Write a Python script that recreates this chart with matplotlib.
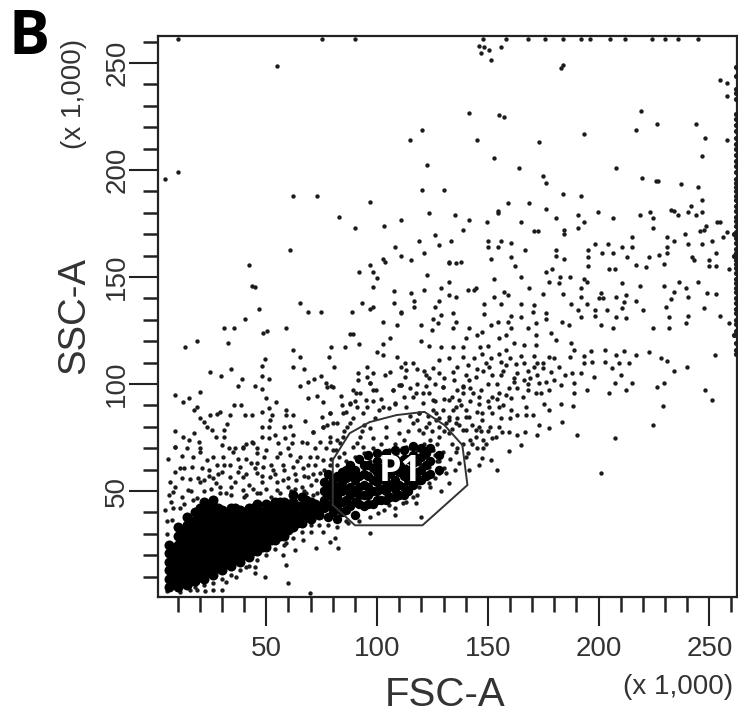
import matplotlib
matplotlib.use("Agg")
import matplotlib.pyplot as plt

x_major = [50, 100, 150, 200, 250]
x_minor = [10, 20, 30, 40, 60, 70, 80, 90, 110, 120, 130, 140, 160, 170, 180, 190, 210, 220, 230, 240, 260]
y_major = [50, 100, 150, 200, 250]
y_minor = [10, 20, 30, 40, 60, 70, 80, 90, 110, 120, 130, 140, 160, 170, 180, 190, 210, 220, 230, 240, 260]

# Sparse events, high side scatter
upper_right = [(148.5,257.6),(156,257.6),(147,254.5),(151.5,251.4),(183,247.5),(184,249),(254.6,242),(258,240.5),(257.8,234.6),(219,227.5),
(157.5,224.6),(226.5,221.5),(243.8,221.5),(217,218.7),(193.5,217),(248,215),(258,214),(173.2,213),(246.8,206.5),(153,205.4),(164,201),(207.8,201),
(174.7,197),(176.2,193.7),(219.8,196.4),(225.8,195),(227,195),(237.3,193.4),(245,191.9),(184,189),(192,187.8),(246.8,186),(159.3,184.7),(168.4,184.7),
(176.2,181.6),(241.8,183.2),(232.5,181.3),(234,181),(154.5,179.7),(154.5,181),(199.8,180.2),(190.5,179),(223.2,180.2),(240.3,180.2),(243.8,179),(246.8,180.2),
(236,179),(218.9,179),(181,177.4),(206.3,177.4),(224.7,177.4),(149.7,175.8),(165,175.8),(193.5,175.8),(253.6,175.8),(255,175.8),(248.3,174),(190.5,172.7),
(224.7,172.7),(171,171.5),(172.5,171.5),(184.2,170),(184.2,172),(246,171.5),(247.5,172),(257.8,171.2),(238.8,170),(215.3,168.5),(150,167),(156,167),(160.5,165.7),
(198.3,165.4),(204.3,165.4),(231,168.5),(234,167),(240.3,165.4),(246.8,165.4),(251.3,167),(256,168.5),(210.8,164),(215.3,163.8),(149.9,163.8),(154.5,164),(167,162.6),
(181,162.6),(195.3,162.6),(201.5,161),(206.3,161),(231,163.8),(231,161),(227.3,160.3),(222.8,159.5),(242.3,159.5),(252.8,161),(160.5,159.5),(181,159.8),(195.3,159.5),
(213,159.5),(151.5,158.3),(184.2,158.3),(249.8,158),(243,158),(162.4,155.1),(195.3,155.1),(216.8,155.6),(221.3,154.8),(229.5,156.3),(249.8,155.1),(252.8,155.1),
(179.2,153.9),(176.2,152.5),(204.5,153.7),(207.5,153.7),(259,153.6),(165,150),(182.5,150),(187.2,150),(193.5,149.3),(153,149),(177.7,147.8),(182.2,147.3),(195,147.6),
(210.8,147),(236.3,147.5),(245,147.5),(168.4,145),(192,144.7),(218.7,145.9),(229.5,145.9),(239.3,144.7),(234,143.2),(157.5,143.2),(159,141.4),(174.7,141.9),(184,141.9),
(201,142.3),(212.3,141.6),(252.8,141.9),(249,142.3),(202,140),(152.6,140.8),(192,140.8),(207.8,140.5),(232.5,139.9),(240.3,140.5),(217,138.9),(148.5,137.4),(156,137.4),
(165,137.4),(171,136.9),(187.5,137.4),(195,137.4),(200.4,140),(211.5,138.4),(230.3,135.8),(247.5,135.4),(220,134.5),(170.2,133.6),(176.2,133.3),(190.5,134.5),(198.3,134.5),
(204,134.5),(210.8,135.3),(148.5,132.7),(160.5,131.8),(165,131.4),(183.7,129.1),(192,131.4),(231.8,131.4),(240.3,132),(254.6,132),(176.2,130.2),(198.3,131.8),(207.8,131.1),
(212.3,130.7),(151.5,127.6),(154.5,128.8),(159,128.8),(171.7,128.3),(186.7,127.6),(201,127.6),(239.6,128.3),(258.8,128.3),(160.5,126),(168,126),(206.6,126),(224.7,126),(231.8,126)]

# Sparse events, mid band on the right of the gate
mid_band = [(121.4,161),(132.6,156.7),(135.6,156.7),(132.3,147.8),(128.9,145),(140.9,143.9),(144.6,145),(115.4,142.3),(135.6,140.5),(116.9,136.1),(110.9,133.3),
(126.3,136.1),(128.9,132.2),(134.1,133.3),(125.1,130.2),(119.9,127.6),(127.4,128.3),(135.6,129.1),(134.1,126),(124.7,125.2),(141.6,126),(119.9,120.2),(123.6,117.7),(128.9,117.1),
(134.1,117.1),(138.6,117.1),(140.1,121.3),(144.9,122.9),(147.6,124.4),(146.6,117.1),(132.6,112),(128.1,111.2),(138.6,112.4),(143.9,112),(147.6,114),(151.4,112),(155.1,121.3),
(158.1,122.9),(161.9,119),(166.4,118.2),(171.7,122.9),(178.4,123.7),(180.7,120.5),(171.7,118.2),(158.1,115.9),(158.1,108.9),(155.9,110.4),(170.9,113),(177.7,112.4),(187.4,119),
(188.9,115.9),(187,112.4),(193.4,113),(193.4,109.6),(197.2,110.4),(196.4,115.4),(202.7,115.9),(202.7,110.4),(207.7,113.5),(211.5,115.4),(216.7,113.5),(213.7,109.6),(209.2,109.6),
(206.2,107.3),(210,104.2),(197.9,103.4),(188.2,105.3),(192,105.3),(182.2,108.1),(178.4,105.7),(174.7,107.3),(170.9,107.8),(166.4,109.6),(162.6,109.3),(152.1,104.2),(150.6,108.1),
(140.9,108.9),(134.1,105.7),(125.1,107.3),(121.4,106.2),(123.6,102.6),(128.1,105),(141.6,101.9),(144.6,103.4),(129.6,98.7),(134.9,101.9),(161.9,101.1),(166.4,101.9),(176.2,101.1),
(182.9,99.5),(188.9,100.3),(194.9,97.2),(188.9,95.6),(204.7,95.6),(207.4,100.3),(215.2,100.3),(212.2,97.2),(226.5,98.7),(229.5,100.3),(240,107.8),(234,106.2),(228,112),(231,110.7),
(222.7,115.1),(252.7,113.5),(248.2,97.2),(251.2,92.5),(229.2,89.7),(224.5,80.8),(207.4,74.6),(200.9,58.2),(190.1,76.2),(183.7,82.4),(177.7,79.3),(172,76.2),(172.9,80.8),(166.9,77.7),
(163.4,76.2),(159.6,77.7),(156.6,77.7),(164.9,71.5),(159.6,68.8),(147.6,65.3),(151.4,64.5),(154.1,59.8),(188.5,89.7),(182.9,90.9),(175.4,90.9),(177.7,88.1),(167.2,89.4),(170.2,85.5),
(167.2,85.5),(163.4,85.5),(160.4,88.1),(160.4,93.3),(165.7,94.1),(171.7,95.6),(177.7,97.2),(173.2,100.3),(155.1,95.6),(159.6,98),(152.1,94.1),(147.6,86.3),(152.1,86.3),(155.1,89.4),
(146.1,90.9),(143.1,95.6),(138.6,95.6),(135.6,89.4),(132.6,84.7),(135.6,81.6),(146.1,80),(152.1,74.6),(140.1,84.7),(129.6,87.8),(120.6,95.6),(116.1,94),(119.1,86.3),(125.1,92.5),
(132.6,92.5),(125.1,87.8),(119.1,78.5),(126.6,83.2),(140.1,78.5),(147.6,83.2),(150.6,89.4),(144.6,75.4),(153.6,75.4),(112.4,109.6),(113.1,106.5),(110.9,99.5),(112.4,103.4),
(148,106),(156,104),(154,100),(163,105),(157,106),(169,103),(172,104),(147,97),(150,100),(142,92),(139,99),(136,97),(145,87),(156,84),(143,72),(148,70),(150,78),(141,68),(146,62)]

# Sparse events on the left of the plot
upper_left = [(42,155.6),(44.7,145.2),(46.5,134.9),(40.5,130.4),(30.7,126.3),(35.5,126.3),(48.7,123.7),(50.3,124.9),(59,126.3),(60.8,162.6),(18.7,120.2),(13.5,117.4),(32.5,119),
(65.3,137.7),(68.6,133.5),(74.6,133.5),(92,152.5),(98,152.5),(99.8,149.4),(98,145.2),(102.8,158.4),(111,160),(107.6,143.6),(107.6,137.7),(93.3,137.7),(96.8,134.9),(98.3,136.1),
(88.8,133.5),(111,133.5),(102.8,129.1),(109.1,127.6),(105.8,121.3),(102.8,118.5),(87.8,123.2),(89,123.2),(91.8,118.5),(85.5,117.1),(79.2,117.1),(62,115.9),(65.3,112.8),(78.5,112.4),
(80.7,108.1),(62,108.1),(66.8,107),(49.5,111.5),(48,108.4),(34,107),(24.4,105.4),(29.5,103.7),(48,103.7),(51,102.3),(39,102.3),(37,99.2),(44.7,99.2),(48,97.6),(65.3,99.2),(68.6,100.9),
(71.6,102.2),(74.6,103.7),(77.3,98.4),(79,99),(19.9,96.1),(9,94.8),(15.3,93.3),(12.3,91.7),(49.8,93.3),(54.5,91.7),(35.5,90.2),(38.5,90.2),(68.6,93.3),(72.8,94.5),(83.7,94.5),(75.8,91.7),
(17.2,87.8),(18.7,89.4),(24.4,85.5),(27.7,86),(29.2,87),(33.4,85.5),(40.5,85.5),(43.5,85.5),(48,87),(51.3,88.6),(59,87.8),(59,85.5),(62,85.5),(52.5,85.5),(51.7,83.2),(20.2,83.9),(21.7,82.4),
(32.2,81.3),(48,79.7),(51,80),(57.8,79.7),(60.8,80.5),(67.5,82.8),(9,78.2),(17.2,76.9),(23.2,79.7),(25.5,78.5),(30.7,78.5),(30.7,75.4),(12.4,75.4),(15.3,73.8),(27.4,75.4),(48,75.4),(51,75),
(43.5,73),(19.5,73),(9,70.7),(20.2,70),(30,71.5),(39.7,70.7),(36,70),(58.5,74.6),(55.5,72.3),(61.5,72.3),(74.3,73),(71.3,77.7),(68.3,72.3),(75,84.7),(78.8,86.3),(75.8,80),(84.8,86.3),
(87.8,90.9),(90.8,89.4),(95.3,89.4),(95.3,108.1),(95.3,103.4),(91.5,105),(91.5,101.9),(98.3,105),(103.6,104.2),(105.8,105.7),(111,108.1),(109.1,112.4),(110.6,99.5),(99.8,115.1),(102.8,113.5),
(96.8,100.3),(98.3,97.2),(107.3,97.2),(108,90.9),(102.8,89.4),(89.3,97.2),(92.3,95.6),(77.3,80.8),(81.8,81.6),(86.3,80),(78.8,73),(83.3,72.3),(90.8,72.3),
(5.8,65),(8.8,70.8),(11.8,66.4),(16.3,61.4),(20,68.4),(20.8,60.6),(23,64.5),(27.8,62.2),(30.5,66),(35,68.4),(39.6,70),(43.8,72.3),(45.6,67.6),(50,69.2),(33.5,62.2),(38,61.1),(44.8,60.6),
(48.6,61.4),(53.1,59.8),(57.6,62.2),(62.1,61.4),(66.6,60.6),(71.8,62.2),(75.6,64.5),(69.6,66),(80.1,69.2),(54.6,66),(60.6,66.9),(6.5,54.4),(11.8,55.9),(15.5,55.5),(20,54.4),(27.5,53.6),
(33.5,56.7),(39.6,56.7),(45.6,58.3),(51.6,56.7),(57.6,55.2),(63.6,55.2),(68.8,56.7),(74.1,58.3),(8,49.7),(14.8,50.5),(18.5,46.6),(4.3,41.2),(7.3,36.5),(11,41.9),(32,49),(39.6,50.5),(47.1,48.9),
(54.6,50.5),(78.6,62.2),(72.6,55.2),(24,57),(30,59),(36,54),(42,53),(48,54),(54,58),(60,52),(66,52),(9,59),(13,61),(25,51),(29,52),(43,63),(64,64),(70,53),(77,56)]

# Upper sparse events
far_top = [(54.7,248.6),(114.7,214),(120.5,218.7),(122.6,202.3),(141.7,226.6),(144.9,214),(150.7,256),(146,258),(155,225.7),(4.3,196),(10,199),(62,188),(73,188),(83,178),(96.6,185),
(90,173),(103,174),(111,176.6),(123.6,180),(120.5,190.6),(130.4,190.6),(135,179),(119,167),(126,169.6),(139,172),(96.6,155.6),(103.4,157),(115.5,158),(132.6,157),(107.9,164),(128,165),
(43.5,146),(141.7,176.6),(133.5,167),(122.7,151),(143.9,144),(138,157),(132.6,141.6),(121.4,144),(128.1,139),(116.8,139)]

# Events around and inside the gate
gate_region = [(87.6,91),(95.1,92.6),(107.9,91),(78.6,86.3),(71.1,77.7),(75.6,80.1),(77.1,100.3),(80.1,98.8),(90.6,95.7),(96.6,100.3),(110.1,99.6),(99.6,97.2),(107.1,97.2),(86.1,87.1),
(93.6,86.3),(101.1,87.9),(105.6,88.7),(113.1,89.4),(117.6,95.7),(120.6,91),(123.6,95.7),(119.1,86.3),(129.6,98.8),(134.1,87.9),(137.1,92.6),(141.7,84.8),(144.7,78.5),(138.6,98.8),
(132.6,83.2),(126.6,86.3),(116.1,81.7),(123.6,81.7),(120.6,77),(128.1,75.4),(132.6,77),(138.6,78.5),(119.1,70.7),(125.1,69.2),(129.6,68.4),(135.6,68.4),(140.1,66),(141.7,59.8),(131.1,58.3),
(132.6,53.6),(128.1,58.3),(123.6,61.4),(123.6,53.6),(119.1,52),(116.1,47.4),(111.6,44.3),(105.6,43.5),(99.6,67.6),(105.6,69.2),(113.1,70.7),(93.6,70.7),(89.1,70.7),(84.6,75.4),(81.6,69.2),
(78.6,75.4),(92.1,75.4),(98.1,74.7),(104.1,75.4),(110.1,77),(104.1,80.1),(96.6,79.3),(87.6,81.7),(80.1,81.7),(124,74),(127,72),(122,66),(127,64),(134,72),(137,63),(135,60),(126,56),(129,50),
(117,65),(120,62),(114,66),(110,65),(128,80),(123,85),(130,78),(136,84),(115,85),(110,83),(99,84),(94,81),(83,66),(86,64),(90,66),(95,66)]

# Extra events in the crowded band left of the gate and along the blob rim
band_fill = [(7,45),(9,52),(12,47),(16,50),(19,56),(22,50),(24,60),(26,56),(29,49),(31,62),(34,52),(37,59),(37,65),(41,48),(41,58),(41,65),(44,51),(46,63),(48,57),(49,66),(52,47),(52,62),(55,54),
(56,68),(58,60),(60,56),(60,70),(63,51),(63,58),(65,66),(67,50),(67,57),(69,62),(71,48),(71,58),(73,66),(75,51),(76,60),(77,70),(79,65),(72,70),(66,73),(62,76),(54,76),(46,70),(41,72),(33,70),
(26,66),(17,66),(14,70),(11,61),(6,48),(5,36),(8,42),(13,44),(17,46),(22,55),(28,58),(34,48),(40,47),(46,49),(50,51),(56,49),(61,50),(68,49),(73,49),(78,34),(74,34),(70,34),(66,31),(62,28),(58,25),
(54,23),(50,20),(46,18),(42,15),(38,13),(34,11),(30,9),(26,7),(22,6),(18,5),(5,30),(82,33),(86,36),(92,36),(97,38),(103,41),(108,42),(113,45),(118,48),(124,52)]

# Extra events in the crowded cloud above and right of the gate
cloud_fill = [(82,62),(85,68),(88,60),(91,65),(94,68),(97,64),(100,64),(103,67),(106,66),(109,68),(112,68),(115,70),(118,69),(121,72),(124,70),(126,67),(128,64),(130,61),(133,65),(136,70),(139,72),
(142,74),(145,70),(148,74),(151,80),(147,78),(143,81),(140,88),(137,81),(134,79),(131,82),(128,84),(125,78),(122,80),(118,83),(114,78),(112,74),(108,72),(102,72),(98,70),(93,78),(89,84),(85,78),
(82,74),(84,90),(90,92),(98,92),(102,93),(112,94),(115,98),(118,100),(122,99),(126,92),(130,93),(134,94),(138,90),(142,98),(146,94),(150,92),(154,93),(157,90),(160,84),(155,80),(149,72),(158,95),
(163,98),(168,97),(174,96),(180,102),(185,104),(162,103),(168,106),(175,110),(180,112),(155,114),(149,110),(145,107),(140,104),(136,108),(130,103),(126,100),(122,104),(118,107),(116,110),(150,118),
(160,112),(165,113),(172,110),(168,100)]

# Events under the main population
lower_edge = [(59.1,15.4),(59.8,6.9),(69.6,2.5),(49.3,10),(44.8,14.7),(44.8,11.6),(32,7.7),(36.5,10),(41,14.7),(57.6,20.1),(62.8,22.5),(59.1,25.6),(66.6,27.1),(72.6,23.2),(78.6,26),
(82.3,23.2),(80.8,27.9),(75.6,31),(70.3,31),(96.6,30.6),(86.9,34.9),(107.9,38.8),(119.9,38),(100.4,39.6),(117.6,44.3),(5,3.5),(11,3),(15.5,3.8),(18.5,3.8),(22.3,3.5),(26,3.8),(29.8,3.8)]

# Events piled on the plot edges
right_edge = [(262,248),(262,244),(262,238),(262,233),(262,226),(262,221),(262,215),(262,210),(262,204),(262,199),(262,194),(262,190),(262,186),(262,181),(262,176),(262,171),(262,166),(262,161),
(262,156),(262,152),(262,147),(262,143),(262,138),(262,133),(262,128),(262,125),(262,119),(262,114),(261,170),(261,160),(261,123),(262,236),(262,224),(262,218),(262,212),(262,207),(262,202),
(262,196),(262,192),(262,188),(262,183),(262,178),(262,174),(262,168),(262,163),(262,158),(262,154),(262,149),(262,145),(262,140),(262,135),(262,130),(262,116)]
top_edge = [(10,261),(75,261),(90,261),(148,261),(158,261),(168,261),(176,261),(184,261),(192,261),(196,261),(205,261),(212,261),(224,261),(230,261),(236,261),(245,261)]

# Saturated population, drawn as large overlapping marks
core_dense = [(6,5),(6,9),(6,13),(6,17),(6,21),(6,25),(10,5),(10,9),(10,13),(10,17),(10,21),(10,25),(10,29),(10,33),(14,6),(14,10),(14,14),(14,18),(14,22),(14,26),(14,30),(14,34),(14,38),
(18,8),(18,12),(18,16),(18,20),(18,24),(18,28),(18,32),(18,36),(18,40),(22,9),(22,13),(22,17),(22,21),(22,25),(22,29),(22,33),(22,37),(22,41),(22,45),(26,11),(26,15),(26,19),(26,23),(26,27),
(26,31),(26,35),(26,39),(26,43),(26,46),(30,13),(30,17),(30,21),(30,25),(30,29),(30,33),(30,37),(30,41),(34,15),(34,19),(34,23),(34,27),(34,31),(34,35),(34,39),(34,42),(38,17),(38,21),(38,25),
(38,29),(38,33),(38,37),(38,41),(42,19),(42,23),(42,27),(42,31),(42,35),(42,39),(42,42),(46,22),(46,26),(46,30),(46,34),(46,38),(46,42),(46,44),(50,24),(50,28),(50,32),(50,36),(50,40),(50,44),
(54,27),(54,31),(54,35),(54,39),(54,43),(54,45),(58,29),(58,33),(58,37),(58,41),(58,45),(62,33),(62,37),(62,41),(62,45),(62,48),(66,35),(66,39),(66,43),(66,47),(70,37),(70,41),(70,45),(74,39),(74,43),
(8,7),(8,11),(8,15),(8,19),(8,23),(12,7),(12,11),(12,15),(12,19),(12,23),(12,27),(12,31),(16,8),(16,12),(16,16),(16,20),(16,24),(16,28),(16,32),(16,36),(20,10),(20,14),(20,18),(20,22),(20,26),(20,30),(20,34),(20,38),(20,42),
(24,12),(24,16),(24,20),(24,24),(24,28),(24,32),(24,36),(24,40),(24,44),(28,14),(28,18),(28,22),(28,26),(28,30),(28,34),(28,38),(28,42),(32,16),(32,20),(32,24),(32,28),(32,32),(32,36),(32,40),(36,18),(36,22),(36,26),(36,30),(36,34),(36,38),(36,42),
(40,20),(40,24),(40,28),(40,32),(40,36),(40,40),(44,22),(44,26),(44,30),(44,34),(44,38),(44,42),(48,24),(48,28),(48,32),(48,36),(48,40),(52,27),(52,31),(52,35),(52,39),(52,43),(56,29),(56,33),(56,37),(56,41),(56,45),(60,32),(60,36),(60,40),(60,44),(64,35),(64,39),(64,43),(68,38),(68,42),(68,46),(72,40),(72,44)]
core_gate = [(78,38),(78,43),(78,48),(78,53),(78,58),(82,37),(82,42),(82,47),(82,52),(82,57),(86,41),(86,46),(86,51),(86,56),(86,60),(90,39),(90,45),(90,50),(90,55),(90,60),(94,43),(94,48),(94,53),
(94,58),(94,62),(98,44),(98,50),(98,55),(98,61),(102,46),(102,51),(102,56),(102,61),(106,47),(106,53),(106,58),(106,63),(110,48),(110,53),(110,59),(110,63),(114,50),(114,55),(114,60),(114,65),
(118,55),(118,59),(118,64),(122,57),(122,62),(122,68),(76,42),(76,50),(80,40),(80,50),(84,45),(84,54),(88,48),(88,57),(92,44),(92,52),(96,48),(96,57),(100,50),(100,59),(104,50),(104,59),(108,51),(108,60),(112,52),(112,61),(116,57),(116,63),(120,60),(120,66),
(80,45),(80,55),(84,40),(84,50),(84,59),(88,43),(88,52),(88,62),(92,48),(92,57),(92,65),(96,44),(96,52),(96,62),(96,67),(100,46),(100,54),(100,64),(100,68),(104,46),(104,54),(104,64),(104,68),(108,47),(108,55),(108,65),(108,69),(112,48),(112,57),(112,65),(112,69),(116,53),(116,67),(116,71),(120,55),(120,70),(124,58),(124,64),(124,70),(128,60),(128,67),(76,46),(76,54)]

# Gate P1 outline
gate_x = [80, 80, 87.6, 96.6, 108.8, 121.4, 130.4, 138.5, 140.8, 120.5, 90, 80]
gate_y = [43.5, 64.5, 77, 82.2, 85.5, 87, 80.8, 71.5, 52.8, 34, 34, 43.5]

W, H = 738, 719
fig = plt.figure(figsize=(W / 100, H / 100), dpi=100, facecolor="white")
ax = fig.add_axes([158 / W, (H - 597) / H, (737 - 158) / W, (597 - 36) / H])
ax.set_xlim(1.1, 262.5)
ax.set_ylim(0.5, 262.6)

ink = "#1c1c1c"
sparse = upper_right + mid_band + upper_left + far_top + gate_region + band_fill + cloud_fill + lower_edge + top_edge
ax.scatter([p[0] for p in sparse], [p[1] for p in sparse], s=10, c=ink, linewidths=0, zorder=3, clip_on=False)
ax.scatter([p[0] for p in right_edge], [p[1] for p in right_edge], s=14, c=ink, linewidths=0, zorder=3, clip_on=False)
ax.scatter([p[0] for p in core_dense], [p[1] for p in core_dense], s=52, c="black", linewidths=0, zorder=3)
ax.scatter([p[0] for p in core_gate], [p[1] for p in core_gate], s=46, c="black", linewidths=0, zorder=3)
ax.plot(gate_x, gate_y, color="#333333", lw=1.4, zorder=4)

for s in ax.spines.values():
    s.set_linewidth(1.6)
    s.set_color("#222222")

sans = "Liberation Sans"
gray = "#333333"
ax.set_xticks(x_major)
ax.set_xticks(x_minor, minor=True)
ax.set_yticks(y_major)
ax.set_yticks(y_minor, minor=True)
ax.tick_params(axis="both", which="major", length=21, width=1.5, color="#222222", labelcolor=gray, labelsize=20)
ax.tick_params(axis="both", which="minor", length=10.5, width=1.8, color="#222222")
ax.tick_params(axis="x", which="major", pad=7)
ax.tick_params(axis="y", which="major", pad=-1)
for t in ax.get_xticklabels():
    t.set_family(sans)
for t in ax.get_yticklabels():
    t.set_family(sans)
    t.set_rotation(90)
    t.set_va("center")

def put(px, py, txt, **kw):
    fig.text(px / W, 1 - py / H, txt, ha="center", va="center", **kw)

put(445, 695, "FSC-A", family=sans, fontsize=29, color=gray)
put(678, 687, "(x 1,000)", family=sans, fontsize=20, color=gray)
put(74, 315, "SSC-A", family=sans, fontsize=27.5, color=gray, rotation=90)
put(74, 94, "(x 1,000)", family=sans, fontsize=20, color=gray, rotation=90)
put(29, 39, "B", family="Open Sans", fontsize=44, weight="bold", color="black")
ax.text(0.418, 0.222, "P1", transform=ax.transAxes, ha="center", va="center", family="Open Sans",
        fontsize=26, weight="bold", color="white", zorder=6)

fig.savefig("out.png", dpi=100, facecolor="white")
